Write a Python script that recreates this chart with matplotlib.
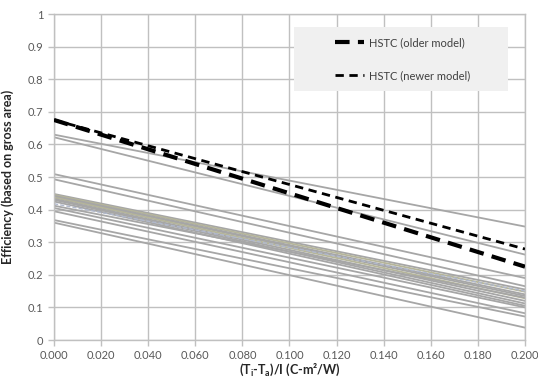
import matplotlib
matplotlib.use('Agg')
import matplotlib.pyplot as plt
from matplotlib.patches import Rectangle
from matplotlib.lines import Line2D

plt.rcParams['font.family'] = ['Lato', 'DejaVu Sans']
plt.rcParams['mathtext.fontset'] = 'custom'
plt.rcParams['mathtext.rm'] = 'Lato'
plt.rcParams['mathtext.bf'] = 'Lato:bold'

# x range of every collector curve
x_ends = [0.0, 0.2]

# HSTC model curves (efficiency at x=0 and x=0.2)
hstc_older = [0.675, 0.225]
hstc_newer = [0.675, 0.279]

# other collectors: efficiency at x=0 and at x=0.2
gray_start = [0.630, 0.622, 0.509, 0.493, 0.448, 0.445, 0.442, 0.440, 0.437,
              0.433, 0.430, 0.425, 0.412, 0.405, 0.395, 0.368, 0.360]
gray_end = [0.348, 0.262, 0.190, 0.165, 0.155, 0.148, 0.140, 0.135, 0.128,
            0.120, 0.112, 0.105, 0.130, 0.100, 0.082, 0.072, 0.038]
gray_colors = ['#a6a6a6', '#a6a6a6', '#a6a6a6', '#a6a6a6', '#a6a6a6', '#b5b59a',
               '#a6a6a6', '#a6a6a6', '#b5b59a', '#a6a6a6', '#a6a6a6', '#a6a6a6',
               '#a6a6a6', '#a6a6a6', '#a6a6a6', '#a6a6a6', '#a6a6a6']
# bluish dashed curve near 0.41
blue_curve = [0.418, 0.150]

x_ticks = [0.0, 0.02, 0.04, 0.06, 0.08, 0.1, 0.12, 0.14, 0.16, 0.18, 0.2]
y_ticks = [0, 0.1, 0.2, 0.3, 0.4, 0.5, 0.6, 0.7, 0.8, 0.9, 1.0]
y_tick_labels = ['0', '0.1', '0.2', '0.3', '0.4', '0.5', '0.6', '0.7', '0.8', '0.9', '1']

fig = plt.figure(figsize=(5.38, 3.81), dpi=100, facecolor='white')
ax = fig.add_axes([0.1004, 0.1076, 0.8754, 0.8556])

for s, e, c in zip(gray_start, gray_end, gray_colors):
    ax.plot(x_ends, [s, e], color=c, lw=1.3, zorder=2)
ax.plot(x_ends, blue_curve, color='#b0b8cc', lw=1.0, ls=(0, (3, 1.5)), zorder=2)

ax.plot(x_ends, hstc_older, color='black', lw=3.0, ls=(0, (3.5, 2)), zorder=4)
ax.plot(x_ends, hstc_newer, color='black', lw=2.0, ls=(0, (3, 2)), zorder=4)

ax.set_xlim(0, 0.2)
ax.set_ylim(0, 1)
ax.set_xticks(x_ticks)
ax.set_xticklabels([f'{v:.3f}' for v in x_ticks])
ax.set_yticks(y_ticks)
ax.set_yticklabels(y_tick_labels)
ax.grid(True, color='#c0c0c0', lw=1.0, zorder=0)
ax.set_axisbelow(True)
for sp in ax.spines.values():
    sp.set_color('#c0c0c0')
    sp.set_linewidth(1.0)
ax.tick_params(colors='#c0c0c0', labelcolor='#595959', labelsize=8, length=4, width=1)
ax.tick_params(axis='x', pad=3)

ax.set_xlabel('(T$_\\mathbf{i}$-T$_\\mathbf{a}$)/I (C-m²/W)', fontsize=9,
              fontweight='bold', color='#262626', labelpad=1)
ax.set_ylabel('Efficiency (based on gross area)', fontsize=9,
              fontweight='bold', color='#262626', labelpad=10)

# legend panel
ax.add_patch(Rectangle((0.5096, 0.764), 0.4544, 0.196, transform=ax.transAxes,
                       facecolor='#f0f0f0', edgecolor='none', zorder=5))
handles = [Line2D([], [], color='black', lw=3.0, ls=(0, (3.5, 2))),
           Line2D([], [], color='black', lw=2.0, ls=(0, (3, 2)))]
leg = ax.legend(handles, ['HSTC (older model)', 'HSTC (newer model)'],
                loc='center', bbox_to_anchor=(0.74, 0.862), frameon=False,
                fontsize=8, labelspacing=2.0, handlelength=2.6, handletextpad=0.4)
leg.set_zorder(6)
for t in leg.get_texts():
    t.set_color('#404040')

fig.savefig('out.png', dpi=100, facecolor='white')
